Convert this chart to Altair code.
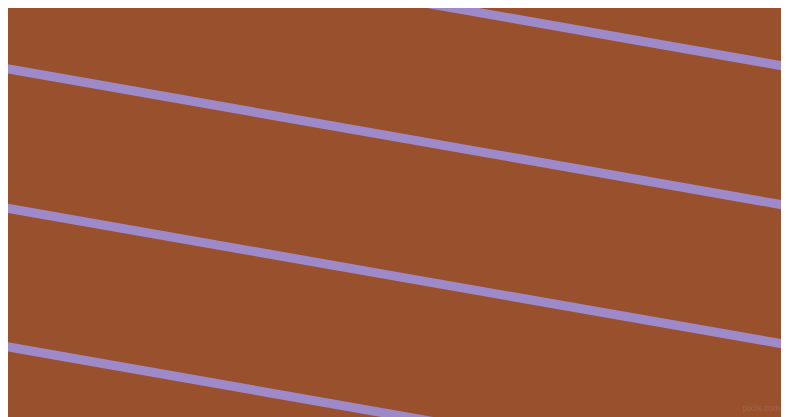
import altair as alt
import pandas as pd

# Stripe centre lines: y position (pixels from top) where each stripe meets the left (x=0) and right (x=789) edges
stripe_ids = ["s1", "s2", "s3", "s4"]
y_left = [-71.5, 67.5, 207.0, 345.5]
y_right = [67.0, 206.0, 345.0, 484.0]
x_left = 0
x_right = 789

watermark_text = ["pixlis.com"]
watermark_x = [780]
watermark_y = [408]

BG = "#99502C"
STRIPE = "#9E8AC8"

rows = []
for sid, yl, yr in zip(stripe_ids, y_left, y_right):
    rows.append({"id": sid, "x": x_left, "y": yl})
    rows.append({"id": sid, "x": x_right, "y": yr})
df = pd.DataFrame(rows)

wm = pd.DataFrame({"t": watermark_text, "x": watermark_x, "y": watermark_y})

xs = alt.Scale(domain=[8, 781], nice=False, zero=False)
ys = alt.Scale(domain=[8, 417], nice=False, zero=False, reverse=True)

lines = alt.Chart(df).mark_line(
    color=STRIPE, strokeWidth=9, strokeCap="butt", clip=True
).encode(
    x=alt.X("x:Q", scale=xs, axis=None),
    y=alt.Y("y:Q", scale=ys, axis=None),
    detail="id:N",
)

text = alt.Chart(wm).mark_text(
    color="#A4654A", fontSize=8.5, font="Liberation Sans", align="right", baseline="middle"
).encode(
    x=alt.X("x:Q", scale=xs, axis=None),
    y=alt.Y("y:Q", scale=ys, axis=None),
    text="t:N",
)

chart = alt.layer(lines, text).properties(
    width=773, height=409, background=BG, padding=0,
    autosize=alt.AutoSizeParams(type="none"),
).configure_view(strokeWidth=0, fill=BG)

chart.save("out.html", embed_options={"renderer": "svg", "actions": False})
